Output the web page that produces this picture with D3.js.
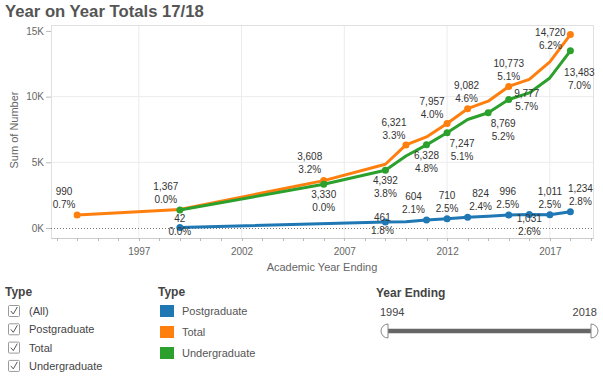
<!DOCTYPE html>
<html>
<head>
<meta charset="utf-8">
<script src="https://cdn.jsdelivr.net/npm/d3@7"></script>
<style>
  html, body { margin: 0; padding: 0; background: #fff; }
  svg { display: block; font-family: "Liberation Sans", Arial, sans-serif; }
</style>
</head>
<body>
<svg id="chart" width="603" height="380"></svg>
<script>
// ---------- DATA ----------
const years = [1994, 1999, 2006, 2009, 2010, 2011, 2012, 2013, 2014, 2015, 2016, 2017, 2018];
const totalValues = [990, 1409, 3608, 4853, 6321, 6932, 7957, 9082, 9650, 10773, 11311, 12640, 14720];
const undergradValues = [null, 1367, 3330, 4392, 5480, 6328, 7247, 8258, 8769, 9777, 10280, 11420, 13483];
const postgradValues = [null, 42, null, 461, 480, 604, 710, 824, 900, 996, 1031, 1011, 1234];
const totalPct = ["0.7%", null, "3.2%", null, "3.3%", null, "4.0%", "4.6%", null, "5.1%", null, null, "6.2%"];
const undergradPct = [null, "0.0%", "0.0%", "3.8%", null, "4.8%", "5.1%", null, "5.2%", "5.7%", null, null, "7.0%"];
const postgradPct = [null, "0.0%", null, "1.8%", null, "2.1%", "2.5%", "2.4%", null, "2.5%", "2.6%", "2.5%", "2.8%"];
const seriesNames = ["Postgraduate", "Total", "Undergraduate"];
const yTickValues = [0, 5000, 10000, 15000];
const xTickYears = [1997, 2002, 2007, 2012, 2017];
const filterItems = ["(All)", "Postgraduate", "Total", "Undergraduate"];
const sliderRange = [1994, 2018];

// ---------- LAYOUT ----------
const colors = { Postgraduate: "#1f77b4", Total: "#ff7f0e", Undergraduate: "#2ca02c" };
const labelOffsets = {
  Total: {1994: [-13, -17], 2006: [-14, -18], 2010: [-12, -16], 2012: [-15, -16], 2013: [-1, -17], 2015: [0, -17], 2018: [-20, 4]},
  Undergraduate: {1999: [-14, -17], 2006: [0, 17], 2009: [0, 17], 2011: [0, 17], 2012: [15, 17], 2014: [15, 17], 2015: [18, 0], 2018: [9, 28]},
  Postgraduate: {1999: [0, -3], 2009: [-3, 2], 2011: [-13, -17], 2012: [0, -17], 2013: [13, -17], 2015: [-1, -17], 2016: [0, 10], 2017: [0, -17], 2018: [10, -17]}
};
const plot = { left: 51, right: 593, top: 25, bottom: 238 };

const svg = d3.select("#chart");

const x = d3.scaleLinear().domain([1992.73, 2019.1]).range([plot.left, plot.right]);
const y = d3.scaleLinear().domain([-760, 15450]).range([plot.bottom, plot.top]);

// title
svg.append("text").attr("x", 5).attr("y", 17)
  .attr("font-size", 16.7).attr("font-weight", "bold").attr("fill", "#555")
  .text("Year on Year Totals 17/18");

// gridlines
const g = svg.append("g");
g.selectAll(".vg").data(xTickYears).join("line")
  .attr("x1", d => x(d)).attr("x2", d => x(d))
  .attr("y1", plot.top).attr("y2", plot.bottom)
  .attr("stroke", "#ececec").attr("stroke-width", 1);
g.selectAll(".hg").data(yTickValues.filter(v => v > 0 && v < 15000)).join("line")
  .attr("x1", plot.left).attr("x2", plot.right)
  .attr("y1", d => y(d)).attr("y2", d => y(d))
  .attr("stroke", "#ececec").attr("stroke-width", 1);

// plot border
svg.append("rect").attr("x", plot.left + 0.5).attr("y", plot.top + 0.5)
  .attr("width", plot.right - plot.left).attr("height", plot.bottom - plot.top)
  .attr("fill", "none").attr("stroke", "#e0e0e0");

// zero line (dotted)
svg.append("line").attr("x1", plot.left).attr("x2", plot.right)
  .attr("y1", Math.round(y(0)) + 0.5).attr("y2", Math.round(y(0)) + 0.5)
  .attr("stroke", "#777").attr("stroke-width", 1).attr("stroke-dasharray", "1,2");

// y axis
const yAxis = d3.axisLeft(y).tickValues(yTickValues)
  .tickFormat(d => (d / 1000) + "K").tickSize(5).tickPadding(2);
const yg = svg.append("g").attr("transform", `translate(${plot.left},0)`).call(yAxis);
yg.select(".domain").remove();
yg.selectAll(".tick line").attr("stroke", "#bbb");
yg.selectAll(".tick text").attr("font-size", 10).attr("fill", "#666")
  .attr("font-family", "Liberation Sans, Arial, sans-serif");

// x axis
const xAxis = d3.axisBottom(x).tickValues(xTickYears).tickFormat(d3.format("d")).tickSize(0).tickPadding(10);
const xg = svg.append("g").attr("transform", `translate(0,${plot.bottom})`).call(xAxis);
xg.select(".domain").attr("stroke", "#ccc");
xg.selectAll(".tick text").attr("font-size", 10).attr("fill", "#666")
  .attr("font-family", "Liberation Sans, Arial, sans-serif");
// minor yearly ticks
const minorYears = d3.range(1993, 2020);
svg.append("g").selectAll("line").data(minorYears).join("line")
  .attr("x1", d => Math.round(x(d)) + 0.5).attr("x2", d => Math.round(x(d)) + 0.5)
  .attr("y1", plot.bottom).attr("y2", plot.bottom + 3)
  .attr("stroke", "#bbb");

// axis titles
svg.append("text").attr("transform", `translate(18,130) rotate(-90)`)
  .attr("text-anchor", "middle").attr("font-size", 11).attr("fill", "#666")
  .text("Sum of Number");
svg.append("text").attr("x", (plot.left + plot.right) / 2).attr("y", 271)
  .attr("text-anchor", "middle").attr("font-size", 11).attr("fill", "#666")
  .text("Academic Year Ending");

// ---------- SERIES ----------
function makeSeries(name, values, pcts) {
  return years.map((yr, i) => ({ name, year: yr, value: values[i], pct: pcts[i] }))
    .filter(d => d.value != null);
}
const series = {
  Postgraduate: makeSeries("Postgraduate", postgradValues, postgradPct),
  Total: makeSeries("Total", totalValues, totalPct),
  Undergraduate: makeSeries("Undergraduate", undergradValues, undergradPct)
};
const drawOrder = ["Postgraduate", "Total", "Undergraduate"];
const line = d3.line().x(d => x(d.year)).y(d => y(d.value));

drawOrder.forEach(name => {
  const data = series[name];
  svg.append("path").datum(data).attr("d", line)
    .attr("fill", "none").attr("stroke", colors[name]).attr("stroke-width", 3)
    .attr("stroke-linejoin", "round").attr("stroke-linecap", "round");
  svg.append("g").selectAll("circle").data(data.filter(d => d.pct != null)).join("circle")
    .attr("cx", d => x(d.year)).attr("cy", d => y(d.value)).attr("r", 3.5)
    .attr("fill", colors[name]);
});

// labels
const fmt = d3.format(",");
drawOrder.forEach(name => {
  const data = series[name].filter(d => d.pct != null);
  const lg = svg.append("g").attr("font-size", 10).attr("fill", "#333").attr("text-anchor", "middle");
  data.forEach(d => {
    const off = (labelOffsets[name] && labelOffsets[name][d.year]) || [0, -17];
    const cx = x(d.year) + off[0];
    const cy = y(d.value) + off[1];
    lg.append("text").attr("x", cx).attr("y", cy - 6.5 + 3.6).text(fmt(d.value));
    lg.append("text").attr("x", cx).attr("y", cy + 6.5 + 3.6).text(d.pct);
  });
});

// ---------- FILTER (checkboxes) ----------
svg.append("text").attr("x", 5).attr("y", 296).attr("font-size", 12).attr("font-weight", "bold")
  .attr("fill", "#444").text("Type");
const fg = svg.append("g");
filterItems.forEach((t, i) => {
  const cy = 311 + i * 18.3;
  fg.append("rect").attr("x", 8.5).attr("y", cy - 5.5).attr("width", 11).attr("height", 11)
    .attr("fill", "#fff").attr("stroke", "#999").attr("rx", 1);
  fg.append("path").attr("d", `M10.8,${cy} L13.3,${cy + 3} L17.3,${cy - 4}`)
    .attr("fill", "none").attr("stroke", "#555").attr("stroke-width", 1);
  fg.append("text").attr("x", 29).attr("y", cy + 4).attr("font-size", 11).attr("fill", "#444").text(t);
});

// ---------- COLOR LEGEND ----------
svg.append("text").attr("x", 158).attr("y", 296).attr("font-size", 12).attr("font-weight", "bold")
  .attr("fill", "#444").text("Type");
const cl = svg.append("g");
seriesNames.forEach((n, i) => {
  const cy = 311 + i * 21;
  cl.append("rect").attr("x", 160).attr("y", cy - 6).attr("width", 14).attr("height", 12).attr("fill", colors[n]);
  cl.append("text").attr("x", 182).attr("y", cy + 4).attr("font-size", 11).attr("fill", "#555").text(n);
});

// ---------- YEAR SLIDER ----------
svg.append("text").attr("x", 376).attr("y", 297).attr("font-size", 12).attr("font-weight", "bold")
  .attr("fill", "#444").text("Year Ending");
svg.append("text").attr("x", 380).attr("y", 316).attr("font-size", 11).attr("fill", "#444").text(sliderRange[0]);
svg.append("text").attr("x", 597).attr("y", 316).attr("text-anchor", "end").attr("font-size", 11).attr("fill", "#444").text(sliderRange[1]);
const sx = d3.scaleLinear().domain(sliderRange).range([388, 591]);
svg.append("line").attr("x1", sx(sliderRange[0])).attr("x2", sx(sliderRange[1]))
  .attr("y1", 331).attr("y2", 331).attr("stroke", "#666").attr("stroke-width", 4.5);
const arcL = d3.arc()({ innerRadius: 0, outerRadius: 7, startAngle: Math.PI, endAngle: 2 * Math.PI });
const arcR = d3.arc()({ innerRadius: 0, outerRadius: 7, startAngle: 0, endAngle: Math.PI });
svg.append("path").attr("d", arcL).attr("transform", `translate(${sx(sliderRange[0])},331)`)
  .attr("fill", "#fff").attr("stroke", "#888");
svg.append("path").attr("d", arcR).attr("transform", `translate(${sx(sliderRange[1])},331)`)
  .attr("fill", "#fff").attr("stroke", "#888");
</script>
</body>
</html>
